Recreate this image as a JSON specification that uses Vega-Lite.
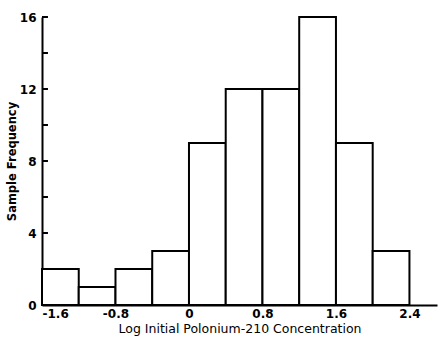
{
  "$schema": "https://vega.github.io/schema/vega-lite/v6.json",
  "width": 395,
  "height": 288,
  "autosize": "none",
  "padding": {"left": 42, "top": 17, "right": 3, "bottom": 36},
  "background": "white",
  "config": {"view": {"stroke": null}, "font": "DejaVu Sans"},
  "data": {"values": [
    {"bin_start": -1.6, "bin_end": -1.2, "count": 2},
    {"bin_start": -1.2, "bin_end": -0.8, "count": 1},
    {"bin_start": -0.8, "bin_end": -0.4, "count": 2},
    {"bin_start": -0.4, "bin_end": 0.0, "count": 3},
    {"bin_start": 0.0, "bin_end": 0.4, "count": 9},
    {"bin_start": 0.4, "bin_end": 0.8, "count": 12},
    {"bin_start": 0.8, "bin_end": 1.2, "count": 12},
    {"bin_start": 1.2, "bin_end": 1.6, "count": 16},
    {"bin_start": 1.6, "bin_end": 2.0, "count": 9},
    {"bin_start": 2.0, "bin_end": 2.4, "count": 3}
  ]},
  "layer": [
    {
      "mark": {"type": "rect", "fill": "white", "stroke": "black", "strokeWidth": 2},
      "encoding": {
        "x": {
          "field": "bin_start", "type": "quantitative",
          "scale": {"domain": [-1.6, 2.7], "nice": false, "zero": false},
          "axis": {
            "values": [-1.6, -0.8, 0, 0.8, 1.6, 2.4],
            "format": ".1~f",
            "labelExpr": "replace(datum.label, '−', '-')",
            "ticks": false, "grid": false,
            "domainColor": "black", "domainWidth": 2,
            "labelColor": "black", "labelFontSize": 12, "labelFontWeight": "bold",
            "labelPadding": 3,
            "title": "Log Initial Polonium-210 Concentration",
            "titleFontSize": 12.5, "titleFontWeight": "normal", "titleColor": "black",
            "titlePadding": 3
          }
        },
        "x2": {"field": "bin_end"},
        "y": {
          "field": "count", "type": "quantitative",
          "scale": {"domain": [0, 16], "nice": false},
          "axis": {
            "values": [0, 4, 8, 12, 16],
            "ticks": false,
            "grid": false,
            "domainColor": "black", "domainWidth": 2,
            "labelColor": "black", "labelFontSize": 12, "labelFontWeight": "bold",
            "labelPadding": 6,
            "title": "Sample Frequency",
            "titleFontSize": 11.5, "titleFontWeight": "bold", "titleColor": "black",
            "titlePadding": 2
          }
        },
        "y2": {"datum": 0}
      }
    },
    {
      "data": {"values": [
        {"v": 2}, {"v": 4}, {"v": 6}, {"v": 8}, {"v": 10}, {"v": 12}, {"v": 14}, {"v": 16}
      ]},
      "mark": {"type": "rule", "color": "black", "strokeWidth": 2},
      "encoding": {
        "y": {"field": "v", "type": "quantitative"},
        "x": {"datum": -1.6},
        "x2": {"datum": -1.535}
      }
    }
  ]
}
